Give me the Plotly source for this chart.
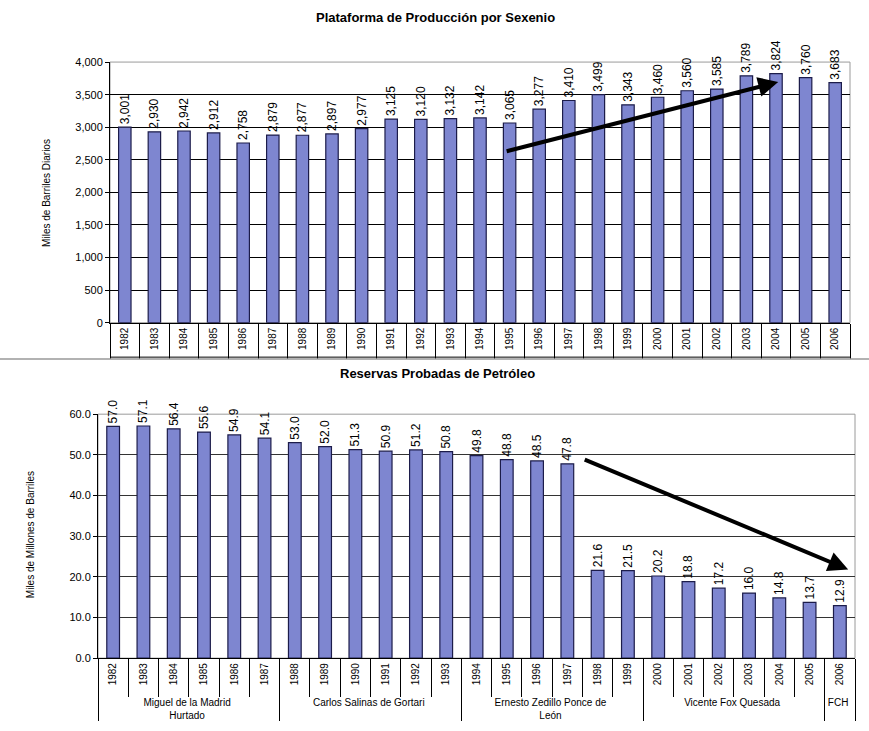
import plotly.graph_objects as go

years = [str(y) for y in range(1982, 2007)]
produccion = [3001, 2930, 2942, 2912, 2758, 2879, 2877, 2897, 2977, 3125, 3120, 3132, 3142,
              3065, 3277, 3410, 3499, 3343, 3460, 3560, 3585, 3789, 3824, 3760, 3683]
reservas = [57.0, 57.1, 56.4, 55.6, 54.9, 54.1, 53.0, 52.0, 51.3, 50.9, 51.2, 50.8, 49.8,
            48.8, 48.5, 47.8, 21.6, 21.5, 20.2, 18.8, 17.2, 16.0, 14.8, 13.7, 12.9]
presidentes = (["Miguel de la Madrid<br>Hurtado"] * 6 + ["Carlos Salinas de Gortari"] * 6 +
               ["Ernesto Zedillo Ponce de<br>León"] * 6 + ["Vicente Fox Quesada"] * 6 + ["FCH"])

W, H = 869, 731
FONT = "Liberation Sans"
BAR = "#7E86D0"
EDGE = "#1c1c4a"

def px_x(a, b):
    return [a / W, b / W]

def px_y(top, bottom):
    return [1 - bottom / H, 1 - top / H]

fig = go.Figure()
fig.add_trace(go.Bar(x=years, y=produccion, xaxis="x", yaxis="y",
                     marker=dict(color=BAR, line=dict(color=EDGE, width=1.2)),
                     texttemplate="%{y:,}", textposition="outside", textangle=-90,
                     textfont=dict(size=12, color="black", family=FONT),
                     cliponaxis=False, constraintext="none", showlegend=False))
fig.add_trace(go.Bar(x=[presidentes, years], y=reservas, xaxis="x2", yaxis="y2",
                     marker=dict(color=BAR, line=dict(color=EDGE, width=1.2)),
                     texttemplate="%{y:.1f}", textposition="outside", textangle=-90,
                     textfont=dict(size=12, color="black", family=FONT),
                     cliponaxis=False, constraintext="none", showlegend=False))

top_dom_x = px_x(110, 850)
top_dom_y = px_y(57, 322)
bot_dom_x = px_x(98, 855)
bot_dom_y = px_y(415, 663)

fig.update_layout(
    width=W, height=H, margin=dict(l=0, r=0, t=0, b=0),
    paper_bgcolor="white", plot_bgcolor="white",
    font=dict(family=FONT, size=11, color="black"),
    bargap=0.58,
    xaxis=dict(domain=top_dom_x, anchor="y", type="category", tickangle=-90,
               tickson="boundaries", ticks="outside", ticklen=35, tickcolor="black",
               showline=True, linecolor="black", linewidth=1,
               tickfont=dict(size=10), showgrid=False),
    yaxis=dict(domain=top_dom_y, anchor="x", range=[0, 4000], dtick=500, tickformat=",",
               ticks="outside", ticklen=4, tickcolor="black", showline=True,
               linecolor="black", gridcolor="black", gridwidth=1, zeroline=False,
               tickfont=dict(size=11)),
    xaxis2=dict(domain=bot_dom_x, anchor="y2", type="multicategory", tickangle=-90,
                ticks="outside", ticklen=38, tickcolor="black",
                showline=True, linecolor="black", linewidth=1,
                showdividers=True, dividercolor="black", dividerwidth=1,
                tickfont=dict(size=10), showgrid=False),
    yaxis2=dict(domain=bot_dom_y, anchor="x2", range=[0, 60], dtick=10, tickformat=".1f",
                ticks="outside", ticklen=4, tickcolor="black", showline=True,
                linecolor="black", gridcolor="#333333", gridwidth=1, zeroline=False,
                tickfont=dict(size=11)),
)

fig.add_annotation(text="<b>Plataforma de Producción por Sexenio</b>", xref="paper", yref="paper",
                   x=435 / W, y=1 - 12 / H, showarrow=False, font=dict(size=13, family=FONT),
                   xanchor="center", yanchor="middle")
fig.add_annotation(text="<b>Reservas Probadas de Petróleo</b>", xref="paper", yref="paper",
                   x=437 / W, y=1 - 374 / H, showarrow=False, font=dict(size=13, family=FONT),
                   xanchor="center", yanchor="middle")
fig.add_annotation(text="Miles de Barriles Diarios", xref="paper", yref="paper",
                   x=47 / W, y=1 - 190 / H, showarrow=False, textangle=-90,
                   font=dict(size=10, family=FONT), xanchor="center", yanchor="middle")
fig.add_annotation(text="Miles de Millones de Barriles", xref="paper", yref="paper",
                   x=30 / W, y=1 - 538 / H, showarrow=False, textangle=-90,
                   font=dict(size=10, family=FONT), xanchor="center", yanchor="middle")

# trend arrows
fig.add_annotation(xref="x domain", yref="y", x=0.903, y=3695,
                   axref="x domain", ayref="y", ax=0.534, ay=2626,
                   showarrow=True, arrowhead=2, arrowsize=1, arrowwidth=4, arrowcolor="black", text="")
fig.add_annotation(xref="x2 domain", yref="y2", x=0.991, y=21.8,
                   axref="x2 domain", ayref="y2", ax=0.641, ay=49.0,
                   showarrow=True, arrowhead=2, arrowsize=1, arrowwidth=4, arrowcolor="black", text="")

# plot-area walls
fig.add_shape(type="rect", xref="x domain", yref="y domain", x0=0, x1=1, y0=0, y1=1,
              line=dict(color="#9a9a9a", width=1), layer="below")
fig.add_shape(type="rect", xref="x2 domain", yref="y2 domain", x0=0, x1=1, y0=0, y1=1,
              line=dict(color="#9a9a9a", width=1), layer="below")
# bottom line of top category table and separator
fig.add_shape(type="line", xref="x domain", yref="paper", x0=0, x1=1,
              y0=1 - 357 / H, y1=1 - 357 / H, line=dict(color="black", width=1))
fig.add_shape(type="line", xref="paper", yref="paper", x0=0, x1=1,
              y0=1 - 359 / H, y1=1 - 359 / H, line=dict(color="#999999", width=1.5))

fig.write_html("out.html", config={"displayModeBar": False},
               post_script="document.body.style.margin='0';")
